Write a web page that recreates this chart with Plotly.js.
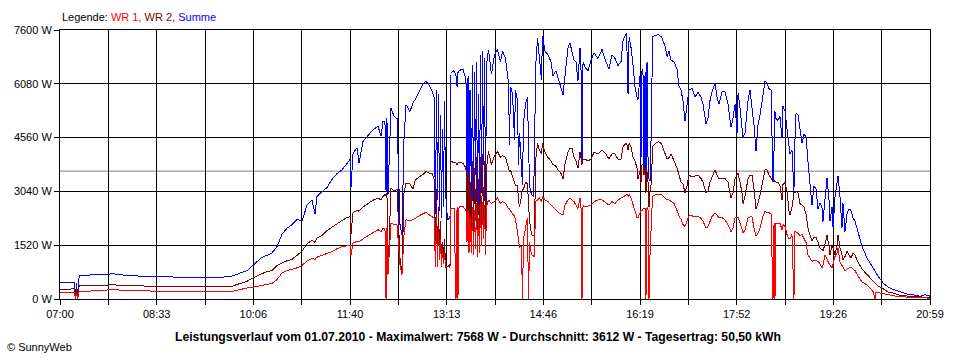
<!DOCTYPE html>
<html>
<head>
<meta charset="utf-8">
<script src="https://cdn.plot.ly/plotly-3.0.1.min.js"></script>
<style>
html,body{margin:0;padding:0;background:#fff;}
#chart{width:960px;height:360px;}
.scatterlayer .js-line{shape-rendering:crispEdges;}
</style>
</head>
<body>
<div id="chart"></div>
<script>
// time in minutes since midnight
const times = [420,425,429.5,434,435,436,437,438.5,445,454.5,465.5,470,480,495,509.5,525,539.5,555,569.5,585,
589.7,594.5,600.3,605.2,610,614.8,619.6,624.4,629.3,634.1,638.9,643.7,648.6,653.4,658.2,663,665.9,667.8,672.7,677.5,
682.3,687.1,692,696.8,699.7,700.6,702.6,706.4,708.4,712.2,717,721.8,726.7,729.6,731.5,733.4,734.4,735.3,736.3,739.2,
742.1,745,747.9,749.8,751.7,753.7,757.5,760.4,762.4,766.2,770.1,773,775.9,778.7,780.7,782.1,783.1,784,785,786,
786.9,787.9,788.9,789.8,790.8,791.8,793.7,796.1,797.1,800,801.9,802.9,803.8,804.8,808.6,811.5,812.5,813.5,814.4,815.4,
816.8,817.8,818.8,819.7,820.7,821.7,822.6,823.6,824.6,825.5,826.5,827.5,828.4,829.4,830.4,831.3,833.2,836.1,839,841.9,
844.8,846.7,849.6,852.5,853.5,854.4,856.4,858.3,859.2,861.2,862.1,863.1,865,866,867,868.9,870.8,871.8,872.8,874.7,
876.6,877.6,878.6,880.5,882.4,884.3,885.3,887.7,890.6,893.5,895.4,898.3,900.3,903.2,905.1,907,909.9,911.8,913.8,915.7,
917.6,919.5,921.5,922.4,923.4,924.4,926.3,929.2,932.1,935,938.8,942.7,946.5,949.4,952.3,955.2,958.1,961,963,965.9,
966.8,967.8,968.8,970.7,972.6,974.5,976.5,977.4,979.3,980.3,981.3,982.2,983.2,984.2,985.1,986.1,987.1,988,989,990.4,
991.4,994.3,997.2,1000.1,1003.4,1005.4,1007.3,1009.3,1012.1,1015,1017,1018.9,1020.8,1022.7,1024.7,1026.6,1029.5,1032.4,1035.3,1038.2,
1040.1,1043,1044.9,1046.8,1048.8,1051.7,1053.6,1055.5,1058.4,1061.3,1064.2,1067.1,1069,1071,1072.9,1073.9,1075.8,1077.7,1078.7,1080.6,
1083.5,1085.4,1087.3,1089.3,1091.2,1093.1,1095.1,1098,1099.9,1101.8,1103.7,1105.7,1107.6,1108.6,1109.5,1110.5,1112.4,1114.3,1116.3,1117.2,
1119.2,1121.1,1123,1124,1125.9,1127.8,1128.8,1129.8,1131.7,1133.6,1135.6,1137.5,1139.4,1141.3,1143.3,1145.2,1147.1,1149.1,1151,1152.9,
1154.8,1155.8,1157.7,1159.7,1161.6,1162.6,1164.5,1165.5,1167.4,1169.3,1170.3,1172.2,1174.1,1175.1,1177,1179,1180.9,1182.8,1184.7,1186.7,
1188.6,1191.5,1193.4,1198.2,1204,1205.9,1206.9,1208.8,1213.7,1218.5,1223.3,1228.1,1233.9,1238.7,1242.6,1249.4,1254.2,1259];

const summe = [460,480,480,480,50,450,30,650,660,700,690,720,680,650,650,630,600,590,595,640,
700,740,800,930,1030,1180,1230,1300,1480,1830,2000,2100,2250,2200,2650,2800,2400,2900,3030,3150,
3380,3540,3650,3850,3940,3130,4120,4270,3840,4450,4600,4780,4880,4600,5020,5000,3050,5110,2950,5400,
5160,5100,2100,1820,4500,5490,5300,5540,5630,5850,6080,6150,6050,5870,5700,2400,5900,2800,5800,2500,
5200,2300,4800,2600,5600,3000,2240,2300,6400,6450,6300,6000,6400,6450,6500,6200,3000,6300,2500,5900,
2800,6600,2400,6400,3500,6700,2300,5800,2600,6900,3000,7000,3800,6800,2700,6600,7040,6350,6900,7050,
6700,7000,6800,6100,4360,6000,5800,4500,5900,5600,3800,4700,3500,3230,5000,5500,5700,4000,3200,2950,
2900,4000,6500,7370,6700,6200,7420,7000,6900,6700,6300,6450,6250,5950,5770,6300,7100,7230,7000,6750,
6700,6150,7100,6600,3800,6700,6550,6450,6750,6950,6800,7050,6700,6500,6900,6800,6600,6700,7300,7500,
7000,5800,7400,7100,6600,6000,5700,5630,6300,3950,6500,6450,3500,6400,3000,6700,3900,3400,3330,5000,
7400,7450,7470,7400,7150,6850,7000,6750,6700,6500,6000,5900,5600,5020,5500,5900,5950,5700,5850,5700,
5500,4950,5100,5600,5850,6100,5700,5500,5850,5850,5500,4850,5100,5500,4700,5820,5400,4800,4550,4700,
5600,5900,5400,4900,4170,4900,5200,5700,6150,6100,5950,5900,3300,4200,5300,5100,5050,5150,4550,5440,
5300,4800,4400,4100,4200,3050,4500,5250,5200,4750,4400,4650,4600,3890,3300,2650,3200,3100,2550,2700,
2600,2190,2800,3420,2800,2200,2600,2000,2900,3200,3470,2900,2000,2700,1900,2400,2550,2500,2300,2200,
2000,1750,1490,1160,880,780,720,650,450,340,270,220,150,120,120,75,120,80];

const wr2 = [263,263,280,290,30,280,20,376,376,380,390,404,380,370,358,360,345,340,340,350,
400,452,500,580,660,720,770,800,950,1020,1080,1120,1230,1350,1560,1660,1600,1720,1800,1930,
2030,2130,2220,2300,2330,1820,2440,2500,2480,2600,2700,2790,2850,2800,2900,2950,2900,2990,690,3140,
3050,3100,1160,690,3000,3280,3250,3100,3350,3450,3520,3600,3560,3550,3380,1500,3100,1100,2600,1400,
2200,1000,1600,1200,1700,900,930,950,3890,3850,3850,3800,3850,3850,3840,3700,2000,3600,1500,3300,
1800,3900,1600,3700,2200,4000,1500,3400,1300,4000,1800,4100,2200,3900,1500,3700,4170,3800,4050,4170,
4000,4050,4000,3700,3600,3650,3500,3300,3200,3200,2800,2600,2900,3100,3100,3300,3250,2800,2200,1820,
1800,1770,3900,4400,4200,4100,4400,4150,4000,3900,3800,3750,3650,3550,3400,3800,4150,4250,4250,4000,
3900,3700,4150,3950,3800,3950,3950,3900,3950,4150,4100,4200,4100,3950,4100,4100,3950,3950,4300,4400,
4350,4200,4400,4300,4000,3900,3700,3400,3600,3300,3800,3800,3500,3700,3000,3600,3300,2600,3050,3300,
4300,4400,4450,4380,4100,3950,4000,4100,3900,3700,3500,3300,3250,3000,3200,3500,3450,3480,3500,3400,
3300,3000,3050,3300,3450,3650,3500,3400,3420,3400,3300,2850,3000,3400,3500,3550,3300,3000,2700,2900,
3400,3500,3500,3100,2550,2700,2950,3400,3650,3650,3500,3420,3300,3350,3330,3300,3300,3200,2800,3230,
3300,3050,2500,2380,2600,3000,3000,3050,3000,2700,2650,2600,2400,2000,1800,1630,1750,1750,1600,1440,
1400,1350,1550,1800,1500,1250,1500,1450,1250,1500,1820,1450,1250,1100,1200,1350,1250,1150,1300,1250,
1100,950,850,690,520,450,420,370,290,200,170,120,90,75,75,60,50,40];

const wr1 = [170,170,180,190,0,190,0,217,217,230,250,263,250,230,217,210,200,198,198,210,
240,280,311,330,360,380,400,440,546,734,800,840,880,950,1070,1150,1120,1180,1230,1290,
1340,1420,1480,1500,1520,1250,1580,1630,1620,1700,1780,1870,1960,1900,1990,2000,0,2000,690,2150,
2100,2100,950,690,1800,2240,2200,2250,2270,2350,2400,2450,2380,2330,2290,900,2300,900,2000,1100,
1700,900,1400,1000,1300,900,920,900,2570,2570,0,2600,0,2600,2620,2500,1600,2500,1300,2300,
1300,2600,1250,2500,1400,2700,1200,2300,1300,2700,1500,2750,1700,2650,1250,2600,2800,2700,2750,2850,
2700,2750,2700,2550,2550,2500,2400,2350,2250,1900,1700,1450,1500,0,1700,2000,2300,0,1600,1250,
1200,1200,2750,2800,2850,2750,2900,2800,2750,2650,2600,2500,2450,2400,2380,2650,2800,2850,2800,2750,
2650,2550,2850,2700,0,2650,2600,2620,2650,2750,2800,2800,2700,2650,2750,2700,2800,2850,2900,2950,
2950,2900,2950,2850,2650,2500,2300,2290,2400,2500,2500,2550,2550,2550,0,2600,2500,0,1250,2200,
2900,2950,2950,2950,2850,2800,2800,2750,2700,2500,2340,2250,2100,2050,2200,2350,2350,2320,2330,2280,
2200,2000,2050,2200,2330,2430,2350,2300,2300,2230,2100,1900,2000,2300,2300,2300,2150,2000,1870,1950,
2300,2320,2330,2000,1770,1850,2000,2350,2470,2450,2440,2400,0,2150,0,2150,2130,2150,1950,2100,
2050,1820,1700,1700,1820,0,1900,1900,1850,1800,1820,1700,1600,1250,1150,1065,1100,1100,1060,1000,
880,950,1250,1100,1000,950,880,1000,1200,1300,1440,1050,950,900,800,850,870,900,850,800,
700,546,480,400,217,0,200,180,150,120,90,70,60,40,45,35,30,25];

const tickLabels = ['07:00','08:33','10:06','11:40','13:13','14:46','16:19','17:52','19:26','20:59'];
const yTickValues = [0,1520,3040,4560,6080,7600];
const averagePower = 3612;
const titleText = 'Leistungsverlauf vom 01.07.2010 - Maximalwert: 7568 W - Durchschnitt: 3612 W - Tagesertrag: 50,50 kWh';

const FONT = 'Liberation Sans, Arial, sans-serif';
const xStart = 420, xEnd = 1259;
const xTickVals = [], xTickText = [];
for (let i = 0; i <= 18; i++) {
  xTickVals.push(xStart + i * (xEnd - xStart) / 18);
  xTickText.push(i % 2 === 0 ? tickLabels[i / 2] : '');
}

const mk = (y, color, name) => ({
  x: times, y: y, type: 'scatter', mode: 'lines', name: name,
  line: {color: color, width: 1}, hoverinfo: 'skip'
});

const data = [mk(summe, '#0000ff', 'Summe'), mk(wr2, '#800000', 'WR 2'), mk(wr1, '#ff0000', 'WR 1')];

const axisCommon = {
  showgrid: true, gridcolor: '#000', gridwidth: 1,
  showline: true, linecolor: '#000', linewidth: 1, mirror: true,
  ticks: 'outside', ticklen: 5, tickcolor: '#000', tickwidth: 1,
  zeroline: false, fixedrange: true,
  tickfont: {family: FONT, size: 11, color: '#000'}
};

const layout = {
  width: 960, height: 360,
  margin: {l: 60, r: 30, t: 30, b: 61},
  paper_bgcolor: '#fff', plot_bgcolor: '#fff',
  showlegend: false,
  xaxis: Object.assign({}, axisCommon, {
    range: [xStart, xEnd], tickmode: 'array', tickvals: xTickVals, ticktext: xTickText
  }),
  yaxis: Object.assign({}, axisCommon, {
    range: [0, 7600], tickmode: 'array', tickvals: yTickValues,
    ticktext: yTickValues.map(v => v + ' W')
  }),
  shapes: [{
    type: 'line', xref: 'paper', x0: 0, x1: 1, yref: 'y', y0: averagePower, y1: averagePower,
    line: {color: '#808080', width: 1}, layer: 'below'
  }],
  annotations: [
    {
      xref: 'paper', yref: 'paper', x: 0, y: 1 + 13 / 269, xanchor: 'left', yanchor: 'middle',
      showarrow: false, font: {family: FONT, size: 11, color: '#000'},
      text: 'Legende: <span style="color:#ff0000">WR 1,</span> <span style="color:#800000">WR 2,</span> <span style="color:#0000ff">Summe</span>'
    },
    {
      xref: 'paper', yref: 'paper', x: (478 - 60) / 870, y: -38 / 269, xanchor: 'center', yanchor: 'middle',
      showarrow: false, font: {family: FONT, size: 12.2, color: '#000', weight: 'bold'},
      text: '<b>' + titleText + '</b>'
    },
    {
      xref: 'paper', yref: 'paper', x: -55 / 870, y: -48 / 269, xanchor: 'left', yanchor: 'middle',
      showarrow: false, font: {family: FONT, size: 11, color: '#000'},
      text: '© SunnyWeb'
    }
  ]
};

Plotly.newPlot('chart', data, layout, {staticPlot: true, displayModeBar: false});
</script>
</body>
</html>
